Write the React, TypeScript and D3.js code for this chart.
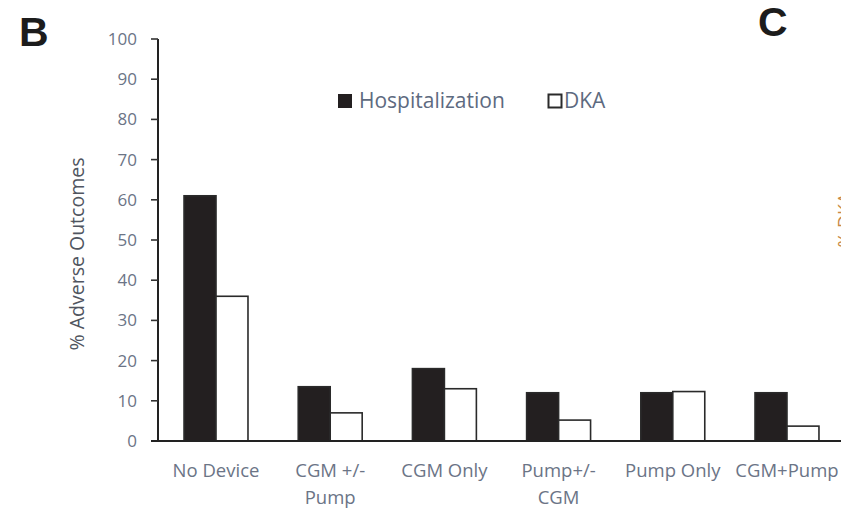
import React from "react";
import * as d3 from "d3";

// Device groups (two-line labels split on "|")
const categories = ["No Device", "CGM +/-|Pump", "CGM Only", "Pump+/-|CGM", "Pump Only", "CGM+Pump"];
const seriesNames = ["Hospitalization", "DKA"];
const hospitalization = [61, 13.5, 18, 12, 12, 12];
const dka = [36, 7, 13, 5.2, 12.3, 3.7];
const yTicks = [0, 10, 20, 30, 40, 50, 60, 70, 80, 90, 100];

const W = 841;
const H = 508;
const FONT = "'Open Sans', 'Noto Sans', sans-serif";
const LABEL = "#6b7486";

export default function App() {
  const y = d3.scaleLinear().domain([0, 100]).range([441, 39]);
  const x0 = d3
    .scaleBand<string>()
    .domain(categories)
    .range([158, 845])
    .paddingInner(0.44)
    .paddingOuter(0.228);
  const x1 = d3.scaleBand<string>().domain(seriesNames).range([0, x0.bandwidth()]);

  const series = [
    { name: seriesNames[0], values: hospitalization, fill: "#231f20" },
    { name: seriesNames[1], values: dka, fill: "#ffffff" },
  ];

  return (
    <svg
      width={W}
      height={H}
      style={{ position: "absolute", left: 0, top: 0, background: "#fff" }}
      fontFamily={FONT}
    >
      <rect width={W} height={H} fill="#fff" />

      {/* panel letters */}
      <text x={19} y={46} fontFamily="'Liberation Sans', Arial, sans-serif" fontWeight="bold" fontSize={41} fill="#1c1c1c">
        B
      </text>
      <text x={758} y={36} fontFamily="'Liberation Sans', Arial, sans-serif" fontWeight="bold" fontSize={41} fill="#1c1c1c">
        C
      </text>

      {/* neighbouring panel's axis title, cut at the edge */}
      <text
        transform={`translate(851,220) rotate(-90)`}
        textAnchor="middle"
        fontSize={18}
        fill="#c98a45"
      >
        % DKA
      </text>

      {/* bars */}
      {series.map((s) =>
        categories.map((c, i) => {
          const bx = (x0(c) as number) + (x1(s.name) as number);
          const by = y(s.values[i]);
          return (
            <rect
              key={s.name + c}
              x={bx}
              y={by}
              width={x1.bandwidth()}
              height={y(0) - by}
              fill={s.fill}
              stroke="#2a2a2a"
              strokeWidth={1.6}
            />
          );
        })
      )}

      {/* y axis */}
      <line x1={158} x2={158} y1={y(100)} y2={y(0)} stroke="#222" strokeWidth={2} />
      {yTicks.map((t) => (
        <g key={t}>
          <line x1={151} x2={158} y1={y(t)} y2={y(t)} stroke="#333" strokeWidth={1.6} />
          <text x={137} y={y(t)} dy="0.35em" textAnchor="end" fontSize={17} fill={LABEL}>
            {t}
          </text>
        </g>
      ))}
      <text
        transform={`translate(84,254) rotate(-90)`}
        textAnchor="middle"
        fontSize={19.5}
        fill="#505560"
      >
        % Adverse Outcomes
      </text>

      {/* x axis */}
      <line x1={151} x2={W} y1={y(0)} y2={y(0)} stroke="#222" strokeWidth={2} />
      {categories.map((c) => {
        const cx = (x0(c) as number) + x0.bandwidth() / 2;
        const lines = c.split("|");
        return (
          <text key={c} x={cx} y={477} textAnchor="middle" fontSize={18.5} fill={LABEL}>
            {lines.map((l, k) => (
              <tspan key={k} x={cx} dy={k === 0 ? 0 : 27}>
                {l}
              </tspan>
            ))}
          </text>
        );
      })}

      {/* legend */}
      <rect x={338} y={94} width={14} height={14} fill="#231f20" />
      <text x={359} y={108} fontSize={21} fill="#5d6a80">
        {seriesNames[0]}
      </text>
      <rect x={548.5} y={94.5} width={13} height={13} fill="#fff" stroke="#2a2a2a" strokeWidth={2} />
      <text x={564} y={108} fontSize={21} fill="#5d6a80">
        {seriesNames[1]}
      </text>
    </svg>
  );
}
